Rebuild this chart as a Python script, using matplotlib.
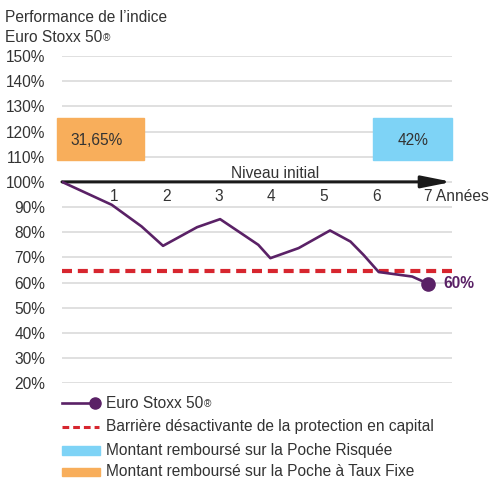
import numpy as np
import matplotlib
matplotlib.use('Agg')
import matplotlib.pyplot as plt
from matplotlib.patches import Rectangle
from matplotlib.lines import Line2D

plt.rcParams['font.family'] = ['Liberation Sans', 'DejaVu Sans']

# index path (years, % of initial level)
years = [0, 0.95, 1.52, 1.93, 2.58, 3.02, 3.40, 3.75, 3.98, 4.52, 5.12, 5.51, 5.76, 6.05, 6.69, 7.0]
perf = [100, 90.9, 82.3, 74.6, 82.0, 85.2, 79.9, 75.0, 69.7, 73.7, 80.7, 76.3, 71.0, 64.2, 62.4, 59.5]
barrier = 64.5
final_label = '60%'
fixed_pocket = '31,65%'
risky_pocket = '42%'
year_labels = ['1', '2', '3', '4', '5', '6', '7 Années']
yticks = np.arange(20, 151, 10)
legend_labels = ['Euro Stoxx 50',
                 'Barrière désactivante de la protection en capital',
                 'Montant remboursé sur la Poche Risquée',
                 'Montant remboursé sur la Poche à Taux Fixe']

PURPLE = '#5a2166'
RED = '#d7262f'
BLUE = '#7ed3f6'
ORANGE = '#f8ae5b'
TXT = '#333333'
FS = 11.2

fig = plt.figure(figsize=(4.93, 4.79), dpi=100)
ax = fig.add_axes([62/493, 1-383.3/479, 390/493, 327.3/479])
ax.set_xlim(0, 7.45)
ax.set_ylim(20, 150)
ax.set_yticks(yticks)
ax.set_yticklabels(['%d%%' % v for v in yticks], fontsize=FS, color=TXT)
ax.tick_params(axis='y', length=0, pad=12)
ax.set_xticks([])
for s in ax.spines.values():
    s.set_visible(False)
ax.grid(axis='y', color='#dddddd', lw=1.3)
ax.set_axisbelow(True)

# boxes for the two pockets
ax.add_patch(Rectangle((-0.1, 108.5), 1.67, 16.7, color=ORANGE, clip_on=False, zorder=2))
ax.add_patch(Rectangle((5.95, 108.5), 1.5, 16.7, color=BLUE, clip_on=False, zorder=2))
ax.text(0.66, 116.6, fixed_pocket, ha='center', va='center', fontsize=FS, color=TXT, zorder=3)
ax.text(6.7, 116.6, risky_pocket, ha='center', va='center', fontsize=FS, color=TXT, zorder=3)

# barrier
ax.plot([0, 7.45], [barrier, barrier], color=RED, lw=3, dashes=(2.4, 1.4), zorder=3)

# initial level arrow
ax.annotate('', xy=(7.45, 100), xytext=(0, 100),
            arrowprops=dict(arrowstyle='-|>,head_length=0.45,head_width=0.09',
                            lw=2.2, color='#1a1a1a', mutation_scale=40,
                            shrinkA=0, shrinkB=0), zorder=4)
ax.text(4.07, 103.4, 'Niveau initial', ha='center', va='center', fontsize=FS, color=TXT)
for i, lab in enumerate(year_labels):
    if i < 6:
        ax.text(i + 1, 94.0, lab, ha='center', va='center', fontsize=FS, color=TXT)
    else:
        ax.text(6.92, 94.0, lab, ha='left', va='center', fontsize=FS, color=TXT)

# index line
ax.plot(years, perf, color=PURPLE, lw=1.9, zorder=5)
ax.plot(years[-1], perf[-1], 'o', color=PURPLE, ms=9.5, zorder=6, clip_on=False)
ax.text(years[-1] + 0.29, perf[-1], final_label, ha='left', va='center',
        fontsize=FS, color=PURPLE, fontweight='bold')

# title, with small superscript mark
fig.text(5/493, 1-22/479, "Performance de l’indice", ha='left', va='baseline',
         fontsize=FS, color=TXT)
t2 = fig.text(5/493, 1-42/479, "Euro Stoxx 50", ha='left', va='baseline',
              fontsize=FS, color=TXT)

# legend drawn in pixel coordinates
lg = fig.add_axes([0, 0, 1, 1], facecolor='none')
lg.set_xlim(0, 493)
lg.set_ylim(479, 0)
lg.axis('off')
rows = [403.3, 426.7, 450, 471.7]
lg.add_line(Line2D([62, 92], [rows[0], rows[0]], color=PURPLE, lw=1.9))
lg.plot(95, rows[0], 'o', color=PURPLE, ms=8)
lg.add_line(Line2D([62, 99], [rows[1], rows[1]], color=RED, lw=2.2, dashes=(2.2, 1.3)))
lg.add_patch(Rectangle((62, rows[2] - 4), 38, 8.5, color=BLUE))
lg.add_patch(Rectangle((62, rows[3] - 4), 38, 8.5, color=ORANGE))
texts = []
for r, lab in zip(rows, legend_labels):
    texts.append(lg.text(105.5, r, lab, ha='left', va='center', fontsize=FS, color=TXT))

# superscript registered marks after the text ends
fig.canvas.draw()
r = fig.canvas.get_renderer()
for t in [t2, texts[0]]:
    bb = t.get_window_extent(r)
    fig.text((bb.x1 + 1) / 493, (bb.y1 - 3) / 479, '®', ha='left', va='top',
             fontsize=FS * 0.65, color=TXT)

fig.savefig('out.png', dpi=100)
